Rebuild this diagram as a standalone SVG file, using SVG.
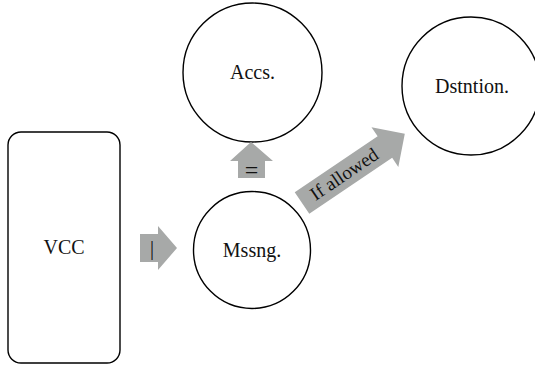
<svg xmlns="http://www.w3.org/2000/svg" width="535" height="368" viewBox="0 0 535 368">
<style>
.node{fill:#fff;stroke:#000;stroke-width:1.4}
.lbl{font-family:"Liberation Serif","Times New Roman","DejaVu Serif",serif;font-size:20px;fill:#111;text-anchor:middle}
.arr{fill:#a7a9a8;stroke:none}
.alb{font-family:"Liberation Serif","Times New Roman","DejaVu Serif",serif;fill:#111;text-anchor:middle}
</style>
<rect width="535" height="368" fill="#fff"/>
<g id="vcc"><rect class="node" x="8" y="132" width="112" height="231" rx="13"/><text class="lbl" x="64" y="254">VCC</text></g>
<g id="accs"><circle class="node" cx="252.5" cy="72.5" r="69.5"/><text class="lbl" x="252.5" y="79">Accs.</text></g>
<g id="mssng"><circle class="node" cx="252" cy="250" r="58.5"/><text class="lbl" x="252" y="257">Mssng.</text></g>
<g id="dstntion"><circle class="node" cx="471" cy="86" r="69"/><text class="lbl" x="472" y="93">Dstntion.</text></g>
<g id="connectors">
<g id="c1"><polygon class="arr" points="140,234 158,234 158,226 177,248 158,270 158,262 140,262"/><text class="alb" x="152" y="255" font-size="20">|</text></g>
<g id="c2"><polygon class="arr" points="238,178 238,161 230,161 251,142 273,161 265,161 265,178"/><text class="alb" x="251.5" y="178" font-size="24">=</text></g>
<g id="c3" transform="translate(302,203) rotate(-34)"><polygon class="arr" points="0,-13 100,-13 100,-24 124,0 100,24 100,13 0,13"/><text class="alb" x="51" y="6" font-size="19">If allowed</text></g>
</g>
</svg>
